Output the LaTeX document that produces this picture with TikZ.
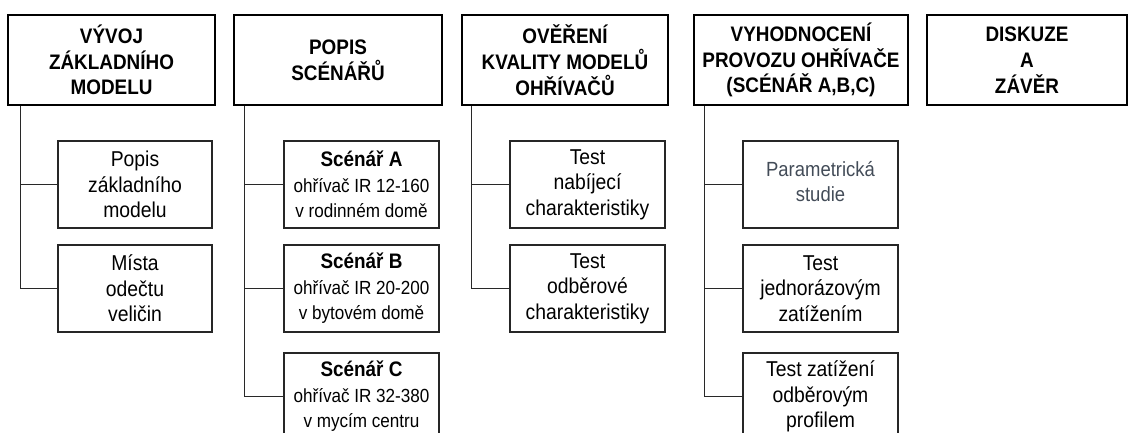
\documentclass[tikz,border=0pt]{standalone}
\usepackage{fontspec}
\setmainfont{Liberation Sans}[FakeStretch=0.9]
\definecolor{linecol}{RGB}{40,40,40}
\definecolor{parcol}{RGB}{67,76,88}
\newcommand{\scenhead}[1]{{\fontsize{21}{25.5}\selectfont\bfseries #1}}
\tikzset{
  x=1pt, y=-1pt,
  headbox/.style={draw=black, line width=2.2pt, inner sep=0pt, align=center,
    font=\fontsize{21}{25.7}\selectfont\bfseries, minimum height=90pt},
  subbox/.style={draw=black!85, line width=1.1pt, inner sep=0pt, align=center,
    font=\fontsize{21.5}{25.5}\selectfont, minimum width=155pt, minimum height=87pt},
  scenbox/.style={subbox, font=\fontsize{19}{25.5}\selectfont},
  conn/.style={draw=linecol, line width=1.1pt},
}
\begin{document}
\begin{tikzpicture}
\clip (0,0) rectangle (1129,433);
\fill[white] (0,0) rectangle (1129,433);
% head boxes
\node[headbox, minimum width=207pt] (T1) at (111.5,60) {VÝVOJ\\ZÁKLADNÍHO\\MODELU};
\node[headbox, minimum width=208pt] (T2) at (338,60) {POPIS\\SCÉNÁŘŮ};
\node[headbox, minimum width=206pt] (T3) at (565,60) {OVĚŘENÍ\\KVALITY MODELŮ\\OHŘÍVAČŮ};
\node[headbox, minimum width=214pt] (T4) at (801,60) {VYHODNOCENÍ\\PROVOZU OHŘÍVAČE\\(SCÉNÁŘ A,B,C)};
\node[headbox, minimum width=200pt] (T5) at (1027,60) {DISKUZE\\A\\ZÁVĚR};
% column 1
\node[subbox, minimum width=154pt] (A1) at (135,184.5) {Popis\\základního\\modelu};
\node[subbox, minimum width=154pt] (A2) at (135,288.5) {Místa\\odečtu\\veličin};
% column 2
\node[scenbox] (B1) at (361.5,184.5) {\scenhead{Scénář A}\\ohřívač IR 12-160\\v rodinném domě};
\node[scenbox] (B2) at (361.5,288.5) {\scenhead{Scénář B}\\ohřívač IR 20-200\\v bytovém domě};
\node[scenbox] (B3) at (361.5,396.5) {\scenhead{Scénář C}\\ohřívač IR 32-380\\v mycím centru};
% column 3
\node[subbox] (C1) at (587.5,184.5) {Test\\nabíjecí\\charakteristiky};
\node[subbox] (C2) at (587.5,288.5) {Test\\odběrové\\charakteristiky};
% column 4
\node[subbox] (D1) at (820.5,184.5) {};
\node[text=parcol, font=\fontsize{20.5}{25.5}\selectfont, align=center, inner sep=0pt] (D1t) at ([yshift=3pt]D1.center) {Parametrická\\studie};
\node[subbox] (D2) at (820.5,288.5) {Test\\jednorázovým\\zatížením};
\node[subbox] (D3) at (820.5,396.5) {Test zatížení\\odběrovým\\profilem};
% connectors
\coordinate (v1) at ([xshift=13.7pt]T1.south west);
\coordinate (v2) at ([xshift=12pt]T2.south west);
\coordinate (v3) at ([xshift=11pt]T3.south west);
\coordinate (v4) at ([xshift=12pt]T4.south west);
\draw[conn] (v1) |- (A1.west);
\draw[conn] (v1) |- (A2.west);
\draw[conn] (v2) |- (B1.west);
\draw[conn] (v2) |- (B2.west);
\draw[conn] (v2) |- (B3.west);
\draw[conn] (v3) |- (C1.west);
\draw[conn] (v3) |- (C2.west);
\draw[conn] (v4) |- (D1.west);
\draw[conn] (v4) |- (D2.west);
\draw[conn] (v4) |- (D3.west);
\end{tikzpicture}
\end{document}
